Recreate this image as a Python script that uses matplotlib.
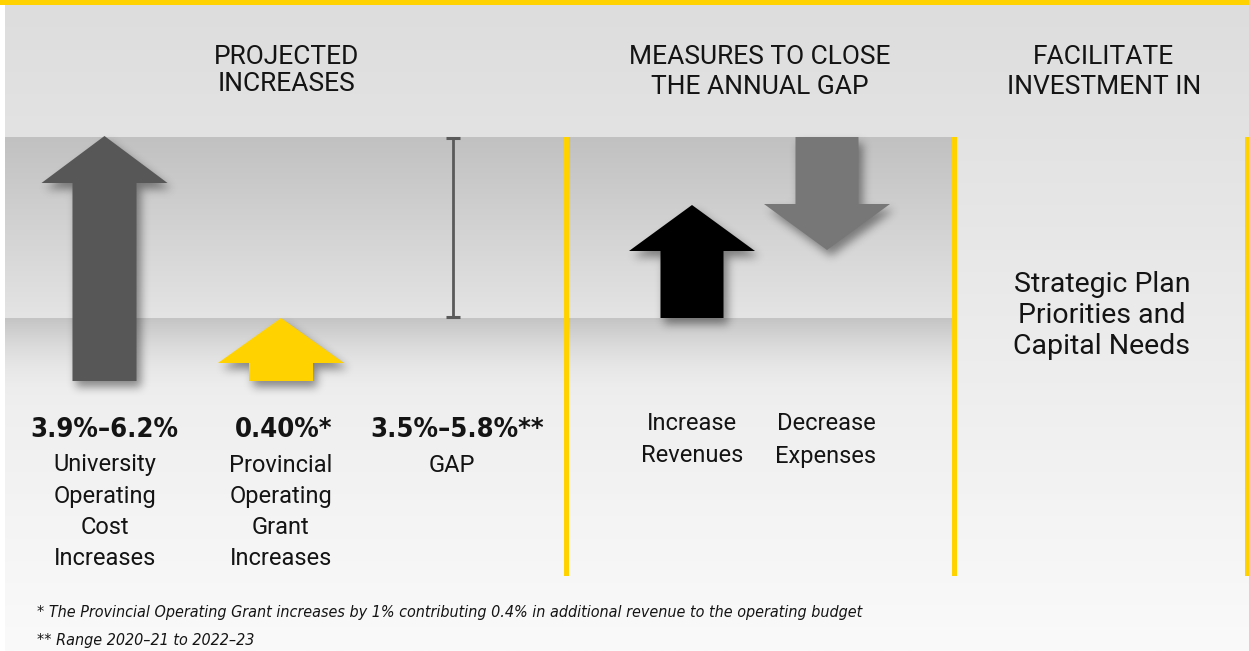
import numpy as np
import matplotlib
matplotlib.use("Agg")
import matplotlib.pyplot as plt
from matplotlib import font_manager as fm
from matplotlib.patches import Polygon, Rectangle
from matplotlib.path import Path
from matplotlib.colors import to_rgb

# ---- data ----
headers = ["PROJECTED\nINCREASES", "MEASURES TO CLOSE\nTHE ANNUAL GAP", "FACILITATE\nINVESTMENT IN"]
values = ["3.9%–6.2%", "0.40%*", "3.5%–5.8%**"]
value_labels = ["University\nOperating\nCost\nIncreases",
                "Provincial\nOperating\nGrant\nIncreases",
                "GAP"]
measures = ["Increase\nRevenues", "Decrease\nExpenses"]
investment = "Strategic Plan\nPriorities and\nCapital Needs"
footnotes = ["* The Provincial Operating Grant increases by 1% contributing 0.4% in additional revenue to the operating budget",
             "** Range 2020–21 to 2022–23"]

# ---- layout (pixel space) ----
W, H = 1249, 651
YELLOW = "#FFD200"
TEXT = "#141414"
REG = ["Roboto", "DejaVu Sans"]


def weight_num(w):
    return w if isinstance(w, int) else fm.weight_dict.get(w, 400)


def condensed_font(bold, italic):
    # look for any installed condensed / narrow face
    for f in fm.fontManager.ttflist:
        narrow = "Condensed" in f.name or "Narrow" in f.name or "condensed" in str(f.stretch)
        if not narrow:
            continue
        if (weight_num(f.weight) >= 600) != bold:
            continue
        if (f.style != "normal") != italic:
            continue
        return fm.FontProperties(fname=f.fname)
    return None


bold_fp = condensed_font(True, False) or fm.FontProperties(family=REG, weight="bold")
ital_fp = condensed_font(False, True) or fm.FontProperties(family=REG, style="italic")

fig = plt.figure(figsize=(W / 100, H / 100), dpi=100, facecolor="white")
ax = fig.add_axes([0, 0, 1, 1])
ax.axis("off")
ax.set_xlim(0, W)
ax.set_ylim(H, 0)
renderer = fig.canvas.get_renderer()


def fit_size(text, fp, target_px, start=20):
    fp = fp.copy()
    fp.set_size(start)
    t = ax.text(0, 0, text, fontproperties=fp)
    w = t.get_window_extent(renderer).width
    t.remove()
    return start * target_px / w


def vgrad(x0, x1, y0, y1, c0, c1, z=0, a0=1.0, a1=1.0):
    t = np.linspace(0, 1, 256)[:, None]
    c0, c1 = np.array(to_rgb(c0)), np.array(to_rgb(c1))
    rgb = c0 + (c1 - c0) * t
    alpha = a0 + (a1 - a0) * t
    img = np.hstack([rgb, alpha]).reshape(256, 1, 4)
    ax.imshow(img, extent=(x0, x1, y1, y0), aspect="auto", zorder=z,
              interpolation="bilinear")


def up_arrow(cx, tip, head_base, bottom, hw, sw):
    return [(cx, tip), (cx + hw, head_base), (cx + sw, head_base), (cx + sw, bottom),
            (cx - sw, bottom), (cx - sw, head_base), (cx - hw, head_base)]


def down_arrow(cx, top, head_base, tip, hw, sw):
    return [(cx - sw, top), (cx + sw, top), (cx + sw, head_base), (cx + hw, head_base),
            (cx, tip), (cx - hw, head_base), (cx - sw, head_base)]


def blurred_shadow(polys, dx=4, dy=6, sigma=4.5, strength=0.42):
    yy, xx = np.mgrid[0:H, 0:W] + 0.5
    grid = np.column_stack([xx.ravel(), yy.ravel()])
    mask = np.zeros(H * W)
    for p in polys:
        path = Path([(x + dx, y + dy) for x, y in p] + [p[0]], closed=True)
        mask = np.maximum(mask, path.contains_points(grid))
    mask = mask.reshape(H, W)
    r = int(3 * sigma)
    k = np.exp(-0.5 * (np.arange(-r, r + 1) / sigma) ** 2)
    k /= k.sum()
    mask = np.apply_along_axis(lambda v: np.convolve(v, k, mode="same"), 1, mask)
    mask = np.apply_along_axis(lambda v: np.convolve(v, k, mode="same"), 0, mask)
    img = np.zeros((H, W, 4))
    img[..., 3] = mask * strength
    ax.imshow(img, extent=(0, W, H, 0), aspect="auto", zorder=4, interpolation="nearest")


def lines(x, y0, text, step, **kw):
    for i, s in enumerate(text.split("\n")):
        ax.text(x, y0 + i * step, s, ha="center", va="center", color=TEXT, zorder=10, **kw)


# backgrounds
vgrad(5, W, 4, H, "#DDDDDD", "#FAFAFA", z=0)
vgrad(5, 955, 137, 318, "#C1C1C1", "#E4E4E4", z=1)
vgrad(5, 955, 318, 395, "#C4C4C4", "#E9E9E9", z=1, a0=1.0, a1=0.0)
ax.add_patch(Rectangle((0, 0), W, 4.5, facecolor=YELLOW, edgecolor="none", zorder=3))

# yellow dividers
for xv in (567, 954.5, 1247.5):
    ax.add_patch(Rectangle((xv - 2.5, 137), 5, 439, facecolor=YELLOW, edgecolor="none", zorder=3))

# arrows
arrows = [
    (up_arrow(104.5, 136, 183, 381, 63, 32), "#575757"),
    (up_arrow(281, 318, 363, 381, 63, 32), YELLOW),
    (up_arrow(692, 205, 251, 318, 63, 31.5), "#000000"),
    (down_arrow(827, 137, 204, 250, 63, 31.5), "#777777"),
]
blurred_shadow([p for p, _ in arrows])
for pts, col in arrows:
    ax.add_patch(Polygon(pts, closed=True, facecolor=col, edgecolor="none", zorder=5))

# gap marker
gx = 453
ax.plot([gx, gx], [138, 317], color="#5A5A5A", lw=2, zorder=6, solid_capstyle="butt")
for yc in (138, 317):
    ax.plot([gx - 7, gx + 7], [yc, yc], color="#5A5A5A", lw=2.2, zorder=6, solid_capstyle="butt")

# headers
header_x = [287, 760, 1104]
header_step = [27.5, 30.5, 30.5]
for hx, st, t in zip(header_x, header_step, headers):
    lines(hx, 56.5, t, st, fontsize=19, family=REG)

# values and labels
vfp = bold_fp.copy()
vfp.set_size(min(fit_size(values[0], bold_fp, 148), 25))
value_x = [104, 284, 457]
label_x = [105, 281, 452]
for vx, lx, v, lab in zip(value_x, label_x, values, value_labels):
    ax.text(vx, 430, v, ha="center", va="center", color=TEXT,
            fontproperties=vfp, zorder=10)
    lines(lx, 465, lab, 31.3, fontsize=17, family=REG)

for mx, t in zip([692, 826], measures):
    lines(mx, 424, t, 32, fontsize=17, family=REG)

lines(1102, 284, investment, 31.5, fontsize=20.5, family=REG)

ffp = ital_fp.copy()
ffp.set_size(fit_size(footnotes[0], ital_fp, 822))
for i, f in enumerate(footnotes):
    ax.text(37, 612 + i * 28, f, ha="left", va="center", color=TEXT,
            fontproperties=ffp, zorder=10)

ax.set_xlim(0, W)
ax.set_ylim(H, 0)
fig.savefig("out.png", dpi=100, facecolor="white")
